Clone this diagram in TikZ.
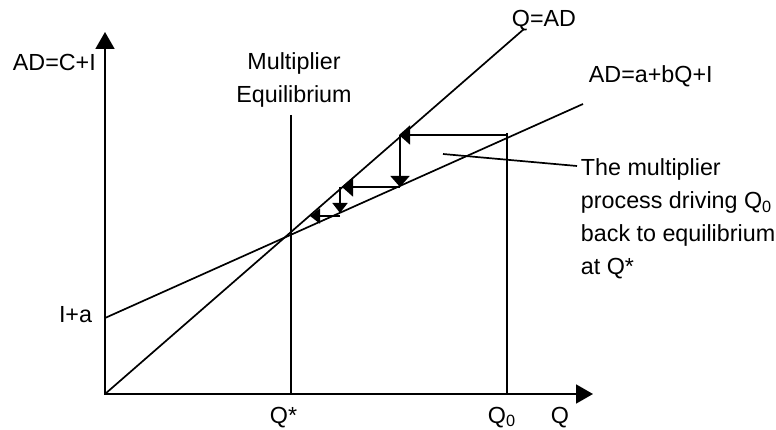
\documentclass[tikz,border=0pt]{standalone}
\usepackage{fontspec}
\setmainfont{Liberation Sans}
\usetikzlibrary{arrows.meta}
\begin{document}
\begin{tikzpicture}[x=1pt,y=-1pt,line width=1.9pt,
  lbl/.style={inner sep=0pt,font=\fontsize{23.3}{33.3}\selectfont},
  axisarrows/.style={{Triangle[length=17pt,width=19pt]}-{Triangle[length=17pt,width=19pt]}},
  stair/.style={-{Triangle[length=11pt,width=19pt]}},
  stairsm/.style={-{Triangle[length=10pt,width=15pt]}},
  thinline/.style={line width=1.7pt}]
\useasboundingbox (0,0) rectangle (776,430);
% axes
\coordinate (O) at (105,394);
\coordinate (Ytip) at (105,32);
\coordinate (Xtip) at (593,394);
\draw[axisarrows] (Ytip) -- (O) -- (Xtip);
% lines
\coordinate (QADend) at (524,29);
\coordinate (ADstart) at (105,318);
\coordinate (ADend) at (583,104);
\draw[thinline] (O) -- (QADend);
\draw[thinline] (ADstart) -- (ADend);
% verticals
\coordinate (Mtop) at (291,115);
\coordinate (Mbot) at (291,394);
\draw[thinline] (Mtop) -- (Mbot);
\coordinate (Q0top) at (507,133);
\coordinate (Q0bot) at (507,394);
\draw[thinline] (Q0top) -- (Q0bot);
% staircase
\coordinate (S0) at (507,135);
\coordinate (S1) at (399,135);
\coordinate (S1b) at (400,135);
\coordinate (S2) at (400,187);
\coordinate (S3) at (342,187);
\coordinate (S3b) at (340,187);
\coordinate (S4) at (340,213);
\coordinate (S4b) at (340,216);
\coordinate (S5) at (310,216);
\draw[stair,thinline] (S0) -- (S1);
\draw[stair,thinline] (S1b) -- (S2);
\draw[stair,thinline] (S2) -- (S3);
\draw[stairsm,thinline] (S3b) -- (S4);
\draw[stairsm,thinline] (S4b) -- (S5);
% leader
\coordinate (L1) at (443,154);
\coordinate (L2) at (577,166);
\draw[thinline] (L1) -- (L2);
% labels
\node[lbl,anchor=base west] (yl) at (12,71) {AD=C+I};
\node[lbl,anchor=base west] (qad) at (511,27) {Q=AD};
\node[lbl,anchor=base west] (adl) at (588,83) {AD=a+bQ+I};
\node[lbl,anchor=base east] (ia) at (93,322) {I+a};
\node[lbl,anchor=base west] (qs) at (269,423) {Q*};
\node[lbl,anchor=base west] (q0) at (487,423) {Q\textsubscript{0}};
\node[lbl,anchor=base west] (q) at (550,423) {Q};
\node[lbl,anchor=base,align=center] (mult) at (294,103) {Multiplier\\Equilibrium};
\node[lbl,anchor=base west,align=left] (proc) at (580,275) {The multiplier\\process driving Q\textsubscript{0}\\back to equilibrium\\at Q*};
\end{tikzpicture}
\end{document}
